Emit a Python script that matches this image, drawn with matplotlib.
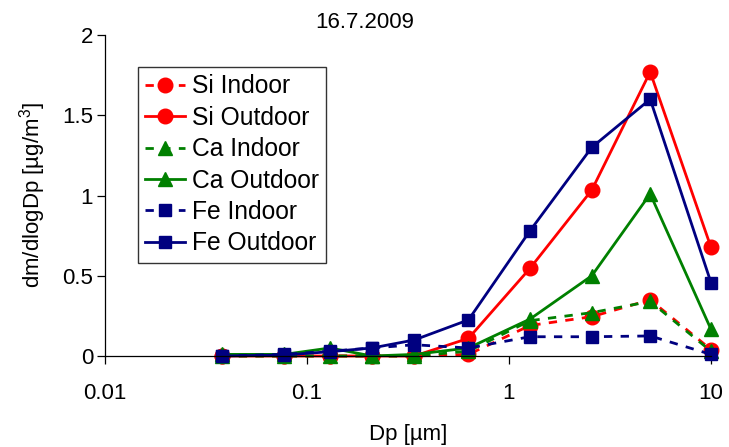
import numpy as np
import matplotlib
matplotlib.use("Agg")
import matplotlib.pyplot as plt

plt.rcParams['font.family'] = ['Liberation Sans', 'DejaVu Sans']
plt.rcParams['mathtext.default'] = 'regular'

# particle diameter, um (impactor stage midpoints)
dp = [0.038, 0.077, 0.13, 0.21, 0.34, 0.63, 1.27, 2.57, 5.0, 10.0]

si_indoor = [0.0, 0.0, 0.0, 0.0, 0.0, 0.01, 0.19, 0.245, 0.35, 0.04]
si_outdoor = [0.0, 0.0, 0.0, 0.0, 0.0, 0.11, 0.546, 1.034, 1.77, 0.677]
ca_indoor = [0.0, 0.0, 0.0, 0.0, 0.0, 0.03, 0.22, 0.27, 0.34, 0.03]
ca_outdoor = [0.01, 0.01, 0.05, 0.0, 0.01, 0.05, 0.23, 0.50, 1.01, 0.166]
fe_indoor = [0.0, 0.01, 0.03, 0.05, 0.07, 0.05, 0.12, 0.12, 0.125, 0.01]
fe_outdoor = [0.0, 0.006, 0.027, 0.05, 0.10, 0.225, 0.78, 1.30, 1.60, 0.457]

series = [
    ("Si Indoor", si_indoor, "#FF0000", "o", True),
    ("Si Outdoor", si_outdoor, "#FF0000", "o", False),
    ("Ca Indoor", ca_indoor, "#008000", "^", True),
    ("Ca Outdoor", ca_outdoor, "#008000", "^", False),
    ("Fe Indoor", fe_indoor, "#000080", "s", True),
    ("Fe Outdoor", fe_outdoor, "#000080", "s", False),
]

fig = plt.figure(figsize=(7.29, 4.47), dpi=100)
ax = fig.add_axes([105 / 729, 1 - 356 / 447, 606 / 729, 321 / 447])

for name, vals, col, mk, dashed in series:
    ms = 9 if mk == "s" else 10.5
    line, = ax.plot(dp, vals, color=col, marker=mk, markersize=ms, lw=2,
                    markeredgecolor=col, label=name, clip_on=False)
    if dashed:
        line.set_linestyle((0, (3, 3)))

ax.set_xscale('log')
ax.set_xlim(0.01, 10)
ax.set_ylim(0, 2)
ax.set_xticks([0.01, 0.1, 1, 10])
ax.set_xticklabels(["0.01", "0.1", "1", "10"])
ax.xaxis.set_minor_locator(matplotlib.ticker.NullLocator())
ax.set_yticks([0, 0.5, 1, 1.5, 2])
ax.set_yticklabels(["0", "0.5", "1", "1.5", "2"])

for s in ['top', 'right']:
    ax.spines[s].set_visible(False)
for s in ['left', 'bottom']:
    ax.spines[s].set_linewidth(0.9)
    ax.spines[s].set_color('black')

ax.tick_params(axis='x', direction='out', length=5.5, width=0.9, pad=14, labelsize=16)
ax.tick_params(axis='y', direction='out', length=5.5, width=0.9, pad=3, labelsize=16)

ax.set_xlabel("Dp [µm]", fontsize=16, labelpad=14)
ax.set_ylabel("dm/dlogDp [µg/m$^{3}$]", fontsize=16, labelpad=10)

fig.text(0.5, 1 - 22 / 447, "16.7.2009", ha='center', va='center', fontsize=16)

leg = ax.legend(loc='upper left', bbox_to_anchor=(0.0545, 0.900), borderaxespad=0,
                fontsize=17.7, frameon=True, fancybox=False, handlelength=1.6,
                handletextpad=0.3, labelspacing=0.3, borderpad=0.3)
leg.get_frame().set_edgecolor('black')
leg.get_frame().set_linewidth(1.0)

fig.savefig("out.png", dpi=100)
